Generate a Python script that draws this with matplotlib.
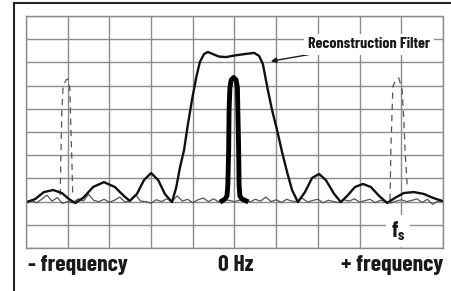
import numpy as np
import matplotlib
matplotlib.use('Agg')
from matplotlib import pyplot as plt
from matplotlib.lines import Line2D

# Reconstruction filter response (grid units: x = freq divisions, y = amplitude divisions)
filter_x = [-4.98, -4.78, -4.57, -4.35, -4.14, -3.97, -3.82, -3.63, -3.39, -3.13,
            -2.87, -2.65, -2.51, -2.34, -2.17, -2.00, -1.83, -1.67, -1.50, -1.40,
            -1.31, -1.21, -1.12, -1.02, -0.92, -0.83, -0.73, -0.64, -0.52, -0.37,
            -0.20, 0.01, 0.25, 0.47, 0.59, 0.68, 0.80, 0.90, 1.02, 1.14,
            1.26, 1.38, 1.52, 1.69, 1.86, 2.03, 2.19, 2.39, 2.55, 2.72,
            2.89, 3.08, 3.27, 3.47, 3.66, 3.85, 4.06, 4.30, 4.54, 4.76, 4.98]
filter_y = [1.98, 2.11, 2.41, 2.50, 2.37, 2.11, 1.94, 2.16, 2.63, 2.84,
            2.63, 2.24, 2.03, 2.33, 2.93, 3.23, 2.93, 2.33, 1.98, 2.59,
            3.45, 4.22, 5.30, 6.38, 7.33, 8.02, 8.36, 8.45, 8.36, 8.25,
            8.23, 8.30, 8.36, 8.41, 8.28, 7.93, 6.81, 5.95, 5.09, 4.14,
            3.28, 2.50, 1.98, 2.41, 3.02, 3.19, 2.93, 2.33, 1.98, 2.28,
            2.63, 2.76, 2.63, 2.24, 1.94, 2.16, 2.37, 2.41, 2.33, 2.16, 2.03]

# Baseband signal (bold pulse at 0 Hz)
pulse_x = [-0.30, -0.23, -0.18, -0.16, -0.14, -0.13, -0.11, -0.08, -0.02,
           0.04, 0.07, 0.08, 0.10, 0.11, 0.13, 0.18, 0.28]
pulse_y = [2.03, 2.11, 2.24, 2.72, 4.22, 5.95, 6.90, 7.24, 7.35,
           7.24, 6.90, 5.95, 4.22, 2.72, 2.24, 2.11, 2.03]

# Noise floor trace
noise_x = np.linspace(-5, 5, 81)
noise_y = [2.00, 2.05, 1.95, 2.10, 2.28, 2.02, 2.18, 1.92, 2.00, 1.95,
           2.12, 2.02, 2.32, 2.05, 2.00, 2.10, 1.97, 2.06, 2.20, 1.98,
           2.05, 2.30, 2.02, 2.00, 1.93, 2.08, 2.00, 2.12, 2.00, 2.25,
           2.02, 2.10, 1.95, 2.08, 2.15, 2.00, 2.12, 1.98, 2.10, 2.05,
           2.00, 2.06, 2.12, 1.98, 2.10, 2.02, 2.20, 2.00, 2.08, 1.96,
           2.10, 2.02, 2.00, 2.15, 1.98, 2.05, 2.10, 1.95, 2.06, 2.00,
           1.96, 2.08, 2.02, 2.12, 1.98, 2.04, 2.10, 1.95, 2.06, 2.00,
           1.94, 2.02, 2.08, 2.00, 2.05, 2.12, 1.96, 2.10, 1.88, 2.02, 2.00]

# Images at -fs and +fs (dashed)
img_left_x = [-4.18, -4.16, -4.14, -4.11, -4.04, -4.00, -3.95, -3.93, -3.90, -3.88]
img_left_y = [2.28, 4.22, 5.95, 6.98, 7.24, 7.28, 6.90, 5.52, 3.79, 2.28]
img_right_x = [3.73, 3.75, 3.78, 3.80, 3.87, 3.94, 4.02, 4.06, 4.09, 4.14]
img_right_y = [2.07, 4.22, 5.95, 6.98, 7.24, 7.33, 6.81, 5.52, 4.22, 2.72]

axis_labels = ['- frequency', '0 Hz', '+ frequency']
narrow = ['Barlow Condensed', 'DejaVu Sans']

fig = plt.figure(figsize=(4.52, 2.91), dpi=100)
ax = fig.add_axes([26 / 452, 1 - 248 / 291, 417 / 452, 232 / 291])

ax.plot(noise_x, noise_y, color='#555555', lw=0.9)
ax.plot(img_left_x, img_left_y, color='#555555', lw=0.9, ls=(0, (5, 4)))
ax.plot(img_right_x, img_right_y, color='#555555', lw=0.9, ls=(0, (5, 4)))
ax.plot(filter_x, filter_y, color='#111111', lw=1.7)
ax.plot(pulse_x, pulse_y, color='#000000', lw=3.5, solid_joinstyle='round')

ax.set_xlim(-5, 5)
ax.set_ylim(0, 10)
ax.set_xticks(range(-5, 6))
ax.set_yticks(range(0, 11))
ax.grid(True, color='#8c8c8c', lw=1)
ax.tick_params(length=0, labelbottom=False, labelleft=False)
for s in ax.spines.values():
    s.set_color('#8c8c8c')
    s.set_linewidth(1)

ax.annotate('Reconstruction Filter', xy=(0.87, 8.05), xytext=(1.76, 8.79),
            fontsize=11.5, fontweight='bold', family=narrow, color='#1a1a1a',
            ha='left', va='center',
            bbox=dict(facecolor='white', edgecolor='none', pad=2.5),
            arrowprops=dict(arrowstyle='-|>', color='#1a1a1a', lw=1,
                            mutation_scale=8, shrinkA=0, shrinkB=0))

ax.text(3.92, 0.72, 'f$_{\\mathregular{s}}$', fontsize=16, fontweight='bold',
        family=narrow, ha='center', va='center', color='#1a1a1a',
        bbox=dict(facecolor='white', edgecolor='none', pad=3))

fig.text(28 / 452, 1 - 265 / 291, axis_labels[0], fontsize=17, fontweight='bold',
         family=narrow, ha='left', va='center', color='#1a1a1a')
fig.text(235.5 / 452, 1 - 265 / 291, axis_labels[1], fontsize=17, fontweight='bold',
         family=narrow, ha='center', va='center', color='#1a1a1a')
fig.text(443 / 452, 1 - 265 / 291, axis_labels[2], fontsize=17, fontweight='bold',
         family=narrow, ha='right', va='center', color='#1a1a1a')

# outer frame
fig.add_artist(Line2D([14 / 452, 14 / 452], [0, 1 - 3 / 291], color='#222222', lw=1.5))
fig.add_artist(Line2D([14 / 452, 1], [1 - 3 / 291, 1 - 3 / 291], color='#222222', lw=1.5))

fig.savefig('out.png', dpi=100)
